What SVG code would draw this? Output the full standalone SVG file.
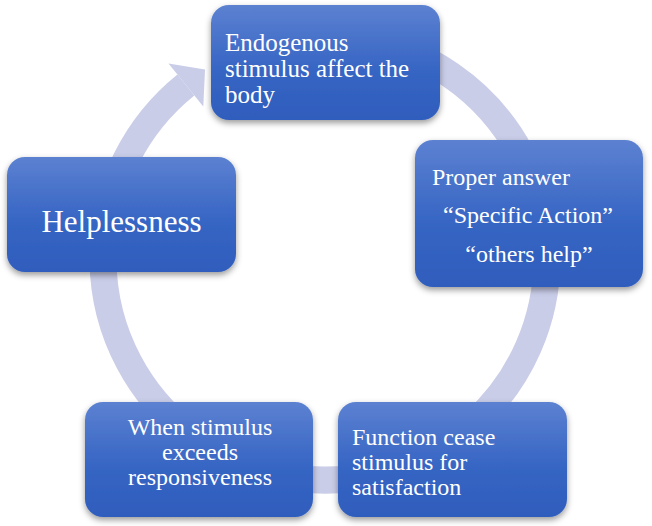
<svg xmlns="http://www.w3.org/2000/svg" width="652" height="526" viewBox="0 0 652 526">
  <defs>
    <linearGradient id="boxGrad" x1="0" y1="0" x2="0" y2="1">
      <stop offset="0" stop-color="#5c81d1"/>
      <stop offset="0.55" stop-color="#3766c4"/>
      <stop offset="1" stop-color="#2f5dbd"/>
    </linearGradient>
    <filter id="shadow" x="-10%" y="-10%" width="120%" height="130%">
      <feDropShadow dx="0" dy="3" stdDeviation="3" flood-color="#000" flood-opacity="0.4"/>
    </filter>
  </defs>
  <style>
    .box { fill: url(#boxGrad); filter: url(#shadow); }
    .t { font-family: "Liberation Serif", "Times New Roman", serif; fill: #ffffff; }
    .ring { fill: none; stroke: #c9cde8; stroke-width: 27; }
    .head { fill: #c9cde8; }
  </style>
  <rect width="652" height="526" fill="#ffffff"/>
  <g id="connectors">
    <path class="ring" d="M 363.5 39.4 A 222 222 0 1 1 185.9 85.0"/>
    <polygon class="head" points="168.5,63.5 203.3,106.5 205,69.5"/>
  </g>
  <g id="node-endogenous">
    <rect class="box" x="211" y="5" width="229" height="115" rx="18"/>
    <text class="t" font-size="25" x="225" y="51">Endogenous</text>
    <text class="t" font-size="25" x="225" y="77">stimulus affect the</text>
    <text class="t" font-size="25" x="225" y="103">body</text>
  </g>
  <g id="node-proper-answer">
    <rect class="box" x="415" y="140" width="228" height="147" rx="18"/>
    <text class="t" font-size="24" x="432" y="185">Proper answer</text>
    <text class="t" font-size="24" x="528" y="223" text-anchor="middle">“Specific Action”</text>
    <text class="t" font-size="24" x="529" y="262" text-anchor="middle">“others help”</text>
  </g>
  <g id="node-function-cease">
    <rect class="box" x="338" y="402" width="229" height="115" rx="18"/>
    <text class="t" font-size="24" x="352" y="445">Function cease</text>
    <text class="t" font-size="24" x="352" y="470">stimulus for</text>
    <text class="t" font-size="24" x="352" y="495">satisfaction</text>
  </g>
  <g id="node-when-stimulus">
    <rect class="box" x="85" y="402" width="228" height="115" rx="18"/>
    <text class="t" font-size="24" x="200" y="435" text-anchor="middle">When stimulus</text>
    <text class="t" font-size="24" x="200" y="460" text-anchor="middle">exceeds</text>
    <text class="t" font-size="24" x="200" y="485" text-anchor="middle">responsiveness</text>
  </g>
  <g id="node-helplessness">
    <rect class="box" x="7" y="157" width="229" height="115" rx="18"/>
    <text class="t" font-size="31" x="121.5" y="232" text-anchor="middle">Helplessness</text>
  </g>
</svg>
